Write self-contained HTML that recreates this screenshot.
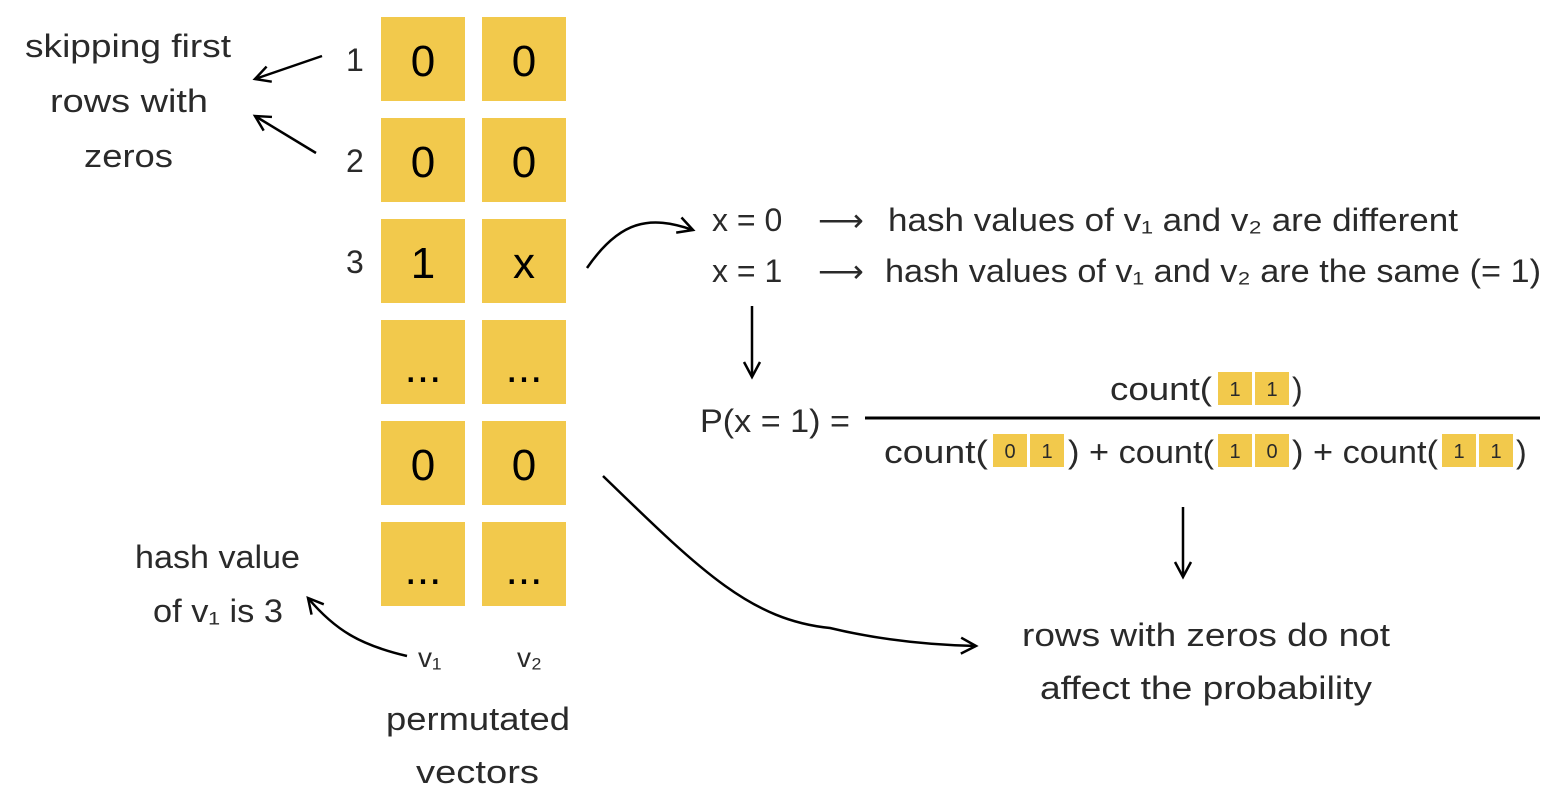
<!DOCTYPE html>
<html><head><style>
html,body{margin:0;padding:0;background:#fff;}
svg{display:block;font-family:"Liberation Sans",sans-serif;}
text{fill:#2a2a2a;}
</style></head><body>
<svg width="1558" height="794" viewBox="0 0 1558 794" xmlns="http://www.w3.org/2000/svg">
<defs>
<marker id="ah2" markerWidth="20" markerHeight="20" refX="17" refY="10" orient="auto" markerUnits="userSpaceOnUse">
<path d="M2,2 L17,10 L2,18" fill="none" stroke="#000" stroke-width="2.5"/>
</marker>
</defs>
<g fill="#F2C94C">
<rect x="381" y="17" width="84" height="84"/><rect x="482" y="17" width="84" height="84"/>
<rect x="381" y="118" width="84" height="84"/><rect x="482" y="118" width="84" height="84"/>
<rect x="381" y="219" width="84" height="84"/><rect x="482" y="219" width="84" height="84"/>
<rect x="381" y="320" width="84" height="84"/><rect x="482" y="320" width="84" height="84"/>
<rect x="381" y="421" width="84" height="84"/><rect x="482" y="421" width="84" height="84"/>
<rect x="381" y="522" width="84" height="84"/><rect x="482" y="522" width="84" height="84"/>
</g>
<g font-size="44" text-anchor="middle">
<text x="423" y="76" style="fill:#000">0</text><text x="524" y="76" style="fill:#000">0</text>
<text x="423" y="177" style="fill:#000">0</text><text x="524" y="177" style="fill:#000">0</text>
<text x="423" y="278" style="fill:#000">1</text><text x="524" y="278" style="fill:#000">x</text>
<text x="423" y="382" style="fill:#000">...</text><text x="524" y="382" style="fill:#000">...</text>
<text x="423" y="480" style="fill:#000">0</text><text x="524" y="480" style="fill:#000">0</text>
<text x="423" y="584" style="fill:#000">...</text><text x="524" y="584" style="fill:#000">...</text>
</g>
<g font-size="32">
<text x="346" y="71">1</text><text x="346" y="172">2</text><text x="346" y="273">3</text>
<text x="25" y="57" textLength="206" lengthAdjust="spacingAndGlyphs">skipping first</text>
<text x="50" y="112" textLength="158" lengthAdjust="spacingAndGlyphs">rows with</text>
<text x="84" y="167" textLength="89" lengthAdjust="spacingAndGlyphs">zeros</text>
<text x="135" y="568" textLength="165" lengthAdjust="spacingAndGlyphs">hash value</text>
<text x="153" y="622" textLength="130" lengthAdjust="spacingAndGlyphs">of v₁ is 3</text>
<text x="418" y="667" font-size="28">v₁</text>
<text x="517" y="667" font-size="28">v₂</text>
<text x="386" y="730" textLength="184" lengthAdjust="spacingAndGlyphs">permutated</text>
<text x="416" y="783" textLength="123" lengthAdjust="spacingAndGlyphs">vectors</text>
<text x="1022" y="646" textLength="368" lengthAdjust="spacingAndGlyphs">rows with zeros do not</text>
<text x="1040" y="699" textLength="332" lengthAdjust="spacingAndGlyphs">affect the probability</text>
</g>
<g font-size="32">
<text x="712" y="231">x = 0</text>
<text x="712" y="282">x = 1</text>
<text x="818" y="231">⟶</text>
<text x="818" y="282">⟶</text>
<text x="888" y="231" textLength="570" lengthAdjust="spacingAndGlyphs">hash values of v₁ and v₂ are different</text>
<text x="885" y="282" textLength="656" lengthAdjust="spacingAndGlyphs">hash values of v₁ and v₂ are the same (= 1)</text>
<text x="700" y="432" textLength="150" lengthAdjust="spacingAndGlyphs">P(x = 1) =</text>
<text x="1110" y="400" textLength="102" lengthAdjust="spacingAndGlyphs">count(</text><text x="1292" y="400">)</text>
<text x="884" y="463" textLength="104" lengthAdjust="spacingAndGlyphs">count(</text>
<text x="1068" y="463" textLength="146" lengthAdjust="spacingAndGlyphs">) + count(</text>
<text x="1292" y="463" textLength="146" lengthAdjust="spacingAndGlyphs">) + count(</text>
<text x="1516" y="463">)</text>
</g>
<g fill="#F2C94C">
<rect x="1218" y="372" width="34" height="33"/><rect x="1255" y="372" width="34" height="33"/>
<rect x="993" y="434" width="34" height="33"/><rect x="1030" y="434" width="34" height="33"/>
<rect x="1218" y="434" width="34" height="33"/><rect x="1255" y="434" width="34" height="33"/>
<rect x="1442" y="434" width="34" height="33"/><rect x="1479" y="434" width="34" height="33"/>
</g>
<g font-size="20" text-anchor="middle">
<text x="1235" y="396">1</text><text x="1272" y="396">1</text>
<text x="1010" y="458">0</text><text x="1047" y="458">1</text>
<text x="1235" y="458">1</text><text x="1272" y="458">0</text>
<text x="1459" y="458">1</text><text x="1496" y="458">1</text>
</g>
<line x1="865" y1="418" x2="1540" y2="418" stroke="#000" stroke-width="3"/>
<g fill="none" stroke="#000" stroke-width="2.5">
<line x1="322" y1="56" x2="255" y2="79" marker-end="url(#ah2)"/>
<line x1="316" y1="153" x2="255" y2="116" marker-end="url(#ah2)"/>
<path d="M587,268 C620,220 650,215 693,230" marker-end="url(#ah2)"/>
<line x1="752" y1="306" x2="752" y2="377" marker-end="url(#ah2)"/>
<line x1="1183" y1="507" x2="1183" y2="577" marker-end="url(#ah2)"/>
<path d="M407,656 C360,645 335,630 308,598" marker-end="url(#ah2)"/>
<path d="M603,476 C700,570 750,620 830,628 C880,640 930,645 976,646" marker-end="url(#ah2)"/>
</g>
</svg>
</body></html>
